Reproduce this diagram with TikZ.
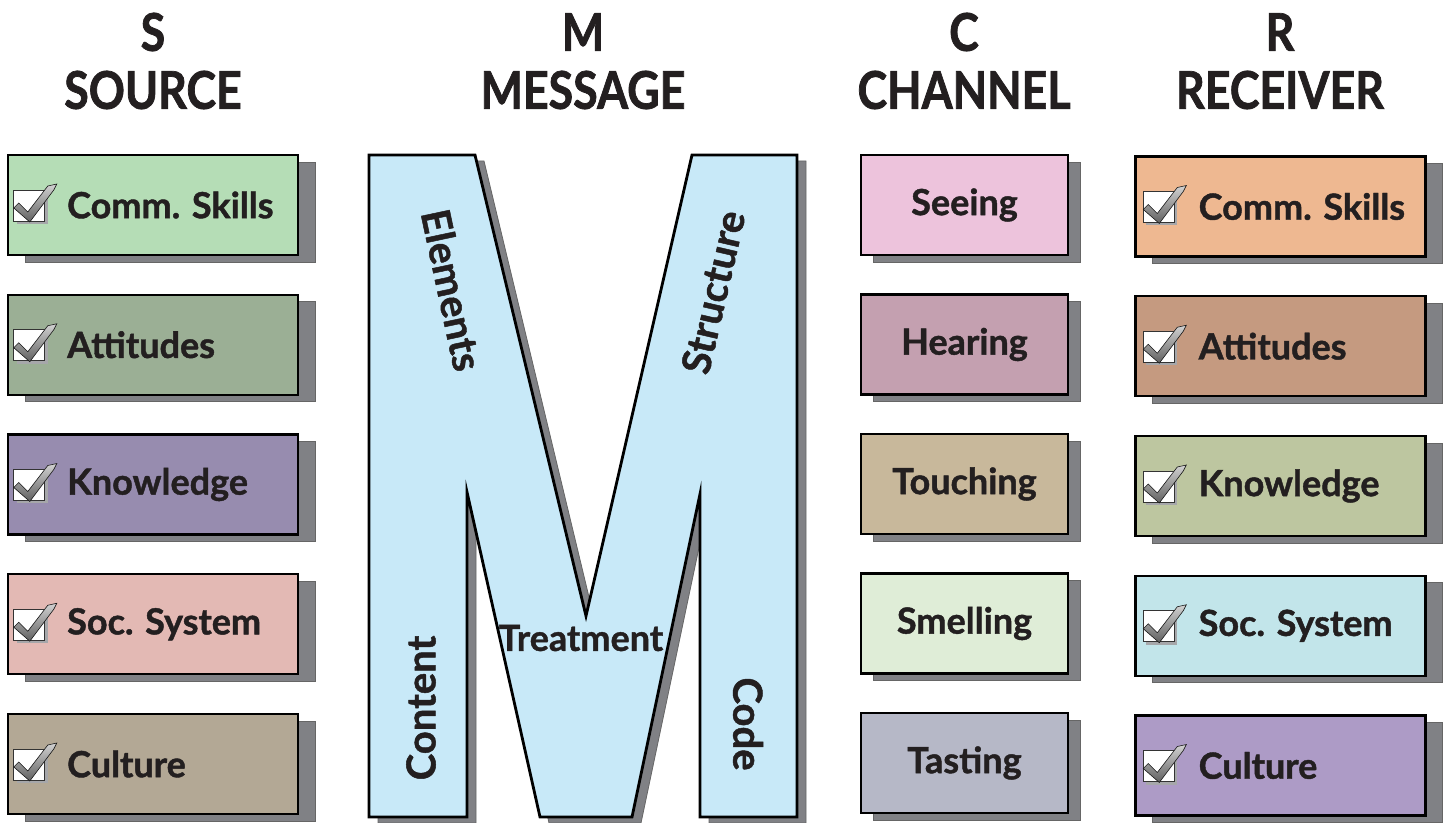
\documentclass[tikz,border=0pt]{standalone}
\usepackage{fontspec}
\setmainfont{Lato}[BoldFeatures={FakeBold=1.2}]
\newfontfamily\headfont{Lato}[FakeStretch=0.86, BoldFeatures={FakeBold=1.4}]
\usetikzlibrary{positioning, shadows, calc}

\definecolor{ink}{HTML}{231F20}
\definecolor{shadowgray}{HTML}{808185}
\definecolor{mfill}{HTML}{C8E9F8}
\definecolor{sA}{HTML}{B5DDB6}
\definecolor{sB}{HTML}{9BAF95}
\definecolor{sC}{HTML}{978CAF}
\definecolor{sD}{HTML}{E3B9B4}
\definecolor{sE}{HTML}{B3A895}
\definecolor{cA}{HTML}{EDC3DC}
\definecolor{cB}{HTML}{C4A0B0}
\definecolor{cC}{HTML}{C8B89B}
\definecolor{cD}{HTML}{DFEDD7}
\definecolor{cE}{HTML}{B6B8C7}
\definecolor{rA}{HTML}{EEB891}
\definecolor{rB}{HTML}{C59A80}
\definecolor{rC}{HTML}{BDC6A0}
\definecolor{rD}{HTML}{C2E5EA}
\definecolor{rE}{HTML}{AD9BC6}

\tikzset{
  head/.style={font=\headfont\bfseries\fontsize{26}{30}\selectfont, text=ink, inner sep=0pt},
  lbl/.style={font=\bfseries\fontsize{18}{22}\selectfont, text=ink, inner sep=0pt},
  mlbl/.style={font=\bfseries\fontsize{20}{24}\selectfont, text=ink, inner sep=0pt},
  wbox/.style={draw=black, line width=1.2pt, fill=#1, minimum width=145pt, minimum height=50pt,
    general shadow={fill=shadowgray, draw=black!60, line width=0.4pt, shadow xshift=8.5pt, shadow yshift=-3.5pt}},
  cbox/.style={draw=black, line width=1.2pt, fill=#1, minimum width=103.5pt, minimum height=50pt,
    font=\bfseries\fontsize{18}{22}\selectfont, text=ink,
    general shadow={fill=shadowgray, draw=black!60, line width=0.4pt, shadow xshift=6pt, shadow yshift=-3.5pt}},
  tickbox/.pic={
    \fill[shadowgray!70] (-12,-12) rectangle (19,19);
    \draw[fill=white, draw=gray!40!black, line width=0.4pt] (-15,-15) rectangle (16,16);
    \draw[draw=gray!20!black, line width=0.3pt, top color=gray!35, bottom color=gray!75!black]
      (-15,3) -- (-10,-2) -- (-1,7) -- (19,-19) -- (28,-21) -- (25,-15) -- (1,17) -- cycle;
  }
}

\begin{document}
\begin{tikzpicture}[x=0.5pt, y=-0.5pt]
  \useasboundingbox (0,0) rectangle (1447,823);

  % headings
  \node[head] (hs) at (153,32) {S};
  \node[head] (hsource) at (153,90) {SOURCE};
  \node[head] (hm) at (583,32) {M};
  \node[head] (hmessage) at (583,90) {MESSAGE};
  \node[head] (hc) at (964,32) {C};
  \node[head] (hchannel) at (964,90) {CHANNEL};
  \node[head] (hr) at (1280,32) {R};
  \node[head] (hreceiver) at (1280,90) {RECEIVER};

  % source
  \foreach \lab/\col [count=\i, evaluate=\i as \yy using 205+(\i-1)*139.75] in
      {Comm. Skills/sA, Attitudes/sB, Knowledge/sC, Soc. System/sD, Culture/sE} {
    \node[wbox=\col] (s\i) at (153,\yy) {};
    \pic at ([xshift=11pt]s\i.west) {tickbox};
    \node[lbl, anchor=west] (s\i t) at ([xshift=30pt]s\i.west) {\lab};
  }

  % message
  \draw[line width=1.4pt, fill=mfill, line join=miter,
    general shadow={fill=shadowgray, draw=black!60, line width=0.4pt, shadow xshift=4.5pt, shadow yshift=-3pt}]
    (369,155) -- (475,155) -- (586,616) -- (692,155) -- (797,155) -- (797,817) -- (700,817)
    -- (700,494) -- (632,817) -- (540,817) -- (467,492) -- (467,817) -- (369,817) -- cycle;
  \node[mlbl, rotate=-78] (elem) at (452,290) {Elements};
  \node[mlbl, rotate=77] (struct) at (713,292) {Structure};
  \node[mlbl, rotate=90] (cont) at (421,708) {Content};
  \node[mlbl, rotate=-90] (code) at (748,724) {Code};
  \node[lbl] (treat) at (581,638) {Treatment};

  % channel
  \foreach \lab/\col [count=\i, evaluate=\i as \yy using 205+(\i-1)*139.5] in
      {Seeing/cA, Hearing/cB, Touching/cC, Smelling/cD, Tasting/cE}
    \node[cbox=\col] (c\i) at (964.5,\yy) {\lab};

  % receiver
  \foreach \lab/\col [count=\i, evaluate=\i as \yy using 206.5+(\i-1)*139.75] in
      {Comm. Skills/rA, Attitudes/rB, Knowledge/rC, Soc. System/rD, Culture/rE} {
    \node[wbox=\col] (r\i) at (1280.5,\yy) {};
    \pic at ([xshift=12pt]r\i.west) {tickbox};
    \node[lbl, anchor=west] (r\i t) at ([xshift=32pt]r\i.west) {\lab};
  }
\end{tikzpicture}
\end{document}
